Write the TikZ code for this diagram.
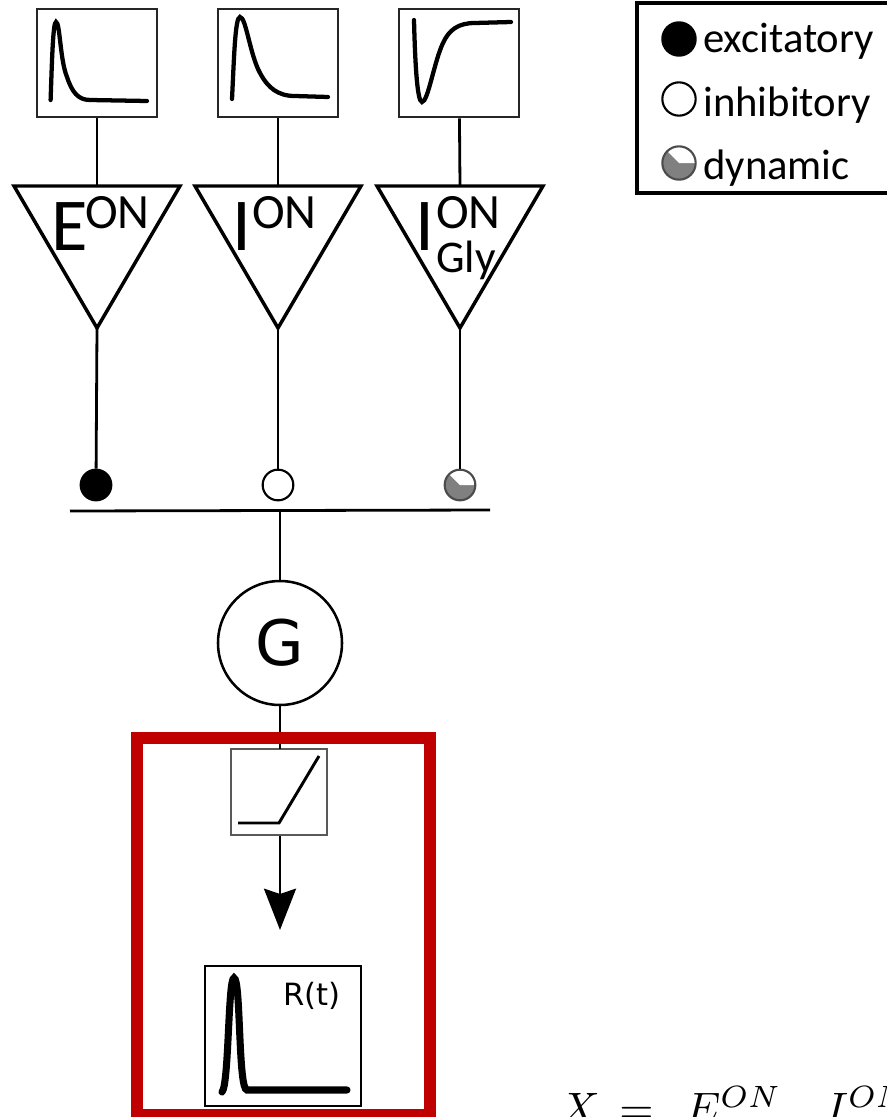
\documentclass[tikz,border=0pt]{standalone}
\usepackage{fontspec}
\setmainfont{Carlito}
\newfontfamily\dejafont{DejaVu Sans}
\usetikzlibrary{positioning,shapes.geometric,arrows.meta}
\definecolor{boxred}{RGB}{192,0,0}
\tikzset{
    wavebox/.style={draw=black!85,line width=1.9pt,minimum width=90pt,minimum height=81pt,inner sep=0pt},
    wave/.style={line width=3.2pt,line cap=round},
    wire/.style={line width=2.1pt},
    cell/.style={shape=isosceles triangle,draw=black,line width=2.6pt,isosceles triangle stretches,shape border rotate=270,
        minimum width=124.5pt,minimum height=106.5pt,inner sep=0pt,outer sep=0pt,anchor=apex},
    biglab/.style={font=\fontsize{56}{64}\selectfont,inner sep=0pt,anchor=base west},
    suplab/.style={font=\fontsize{37}{44}\selectfont,inner sep=0pt,anchor=base west},
    leglab/.style={font=\fontsize{32}{38}\selectfont,inner sep=0pt,anchor=base west},
    syn/.style={shape=circle,draw=black,line width=1.6pt,minimum size=23pt,inner sep=0pt},
    excsyn/.style={syn,fill=black},
    inhsyn/.style={syn,fill=white},
    dynsyn/.style={syn,draw=black!70,fill=black!50,path picture={
        \fill[white] (path picture bounding box.center) -- (path picture bounding box.east) -- (path picture bounding box.north east) -- (path picture bounding box.north west) -- cycle;}}
}
\begin{document}
\begin{tikzpicture}[x=0.75pt,y=-0.75pt]
    \useasboundingbox (0,0) rectangle (887,1117);
    \node[wavebox] (b1) at (97,63) {};
    \node[wavebox] (b2) at (278,63) {};
    \node[wavebox] (b3) at (459,63) {};
    \draw[wave] (50.6,100) .. controls (52,60) and (53,22) .. (56,22) .. controls (60,22) and (60,60) .. (67,77) .. controls (72,92) and (78,100) .. (90,100) -- (147,101);
    \draw[wave] (232,99) .. controls (234,60) and (235,17) .. (240,17) .. controls (246,17) and (250,55) .. (260,73) .. controls (268,88) and (278,96) .. (295,96) -- (328,97);
    \draw[wave] (414,20) .. controls (415,60) and (417,102) .. (422,102) .. controls (428,102) and (434,62) .. (443,43) .. controls (449,30) and (458,23) .. (475,23) -- (511,22);
    \node[cell] (t1) at (97,328) {};
    \node[cell] (t2) at (278,328) {};
    \node[cell] (t3) at (460,328) {};
    \node[biglab] (e1) at (51,250) {E};
    \node[suplab] (e1on) at (85,228) {ON};
    \node[biglab] (i1) at (232,250) {I};
    \node[suplab] (i1on) at (252,228) {ON};
    \node[biglab] (i2) at (415,250) {I};
    \node[suplab] (i2on) at (436,228) {ON};
    \node[suplab,font=\fontsize{34}{40}\selectfont] (i2gly) at (436,272) {Gly};
    \node[excsyn] (s1) at (96,485) {};
    \node[inhsyn] (s2) at (278,485) {};
    \node[dynsyn] (s3) at (460,485) {};
    \coordinate (barl) at (70,511);
    \coordinate (barr) at (490,510);
    \coordinate (barm) at (280,510);
    \draw[wire] (barl) -- (barr);
    \node[shape=circle,draw=black,line width=1.9pt,minimum size=93pt,inner sep=0pt,font=\dejafont\fontsize{47}{56}\selectfont] (G) at (280,643) {G};
    \node[draw=black!65,line width=1.5pt,minimum width=72pt,minimum height=65pt,inner sep=0pt] (rect) at (279,792) {};
    \node[draw=black,line width=1.5pt,minimum width=117pt,minimum height=105pt,inner sep=0pt] (rbox) at (283.3,1035.5) {};
    \node[font=\dejafont\fontsize{23}{28}\selectfont,inner sep=0pt] (rlab) at (312,996) {R(t)};
    \coordinate (rectb) at (280,836);
    \coordinate (gb) at (280,749);
    \coordinate (tip) at (280,930);
    \draw[wire] (b1) -- (t1.lower side);
    \draw[wire] (b2) -- (t2.lower side);
    \draw[wire] (b3) -- (t3.lower side);
    \draw[wire] (t1.apex) -- (s1);
    \draw[wire] (t2.apex) -- (s2);
    \draw[wire] (t3.apex) -- (s3);
    \draw[wire] (barm) -- (G);
    \draw[wire] (G) -- (gb);
    \draw[wire,-{Stealth[length=31pt,width=24pt,inset=4pt]}] (rectb) -- (tip);
    \draw[line width=2.2pt] (238,823) -- (279,823) -- (319,756);
    \draw[line width=5.3pt,line cap=round] (222,1092) .. controls (229,1085) and (228,978) .. (234,978) .. controls (241,978) and (238,1090) .. (247,1090) -- (347,1090);
    \node[draw=boxred,line width=9pt,minimum width=220pt,minimum height=283pt,inner sep=0pt] (red) at (283.5,926.5) {};
    \node[draw=black,line width=3pt,minimum width=190pt,minimum height=142pt,inner sep=0pt] (legend) at (764,98) {};
    \node[excsyn,minimum size=25pt] (l1) at (679,39) {};
    \node[inhsyn,minimum size=25pt] (l2) at (679,99) {};
    \node[dynsyn,minimum size=25pt] (l3) at (679,163) {};
    \node[leglab] (t1lab) at (703,52) {excitatory};
    \node[leglab] (t2lab) at (703,116) {inhibitory};
    \node[leglab] (t3lab) at (703,179) {dynamic};
    \node[inner sep=0pt,anchor=base west,scale=3.3] (eq) at (559,1123) {$X\,=\,\;E^{ON},\;\;I^{ON}$};
\end{tikzpicture}
\end{document}
